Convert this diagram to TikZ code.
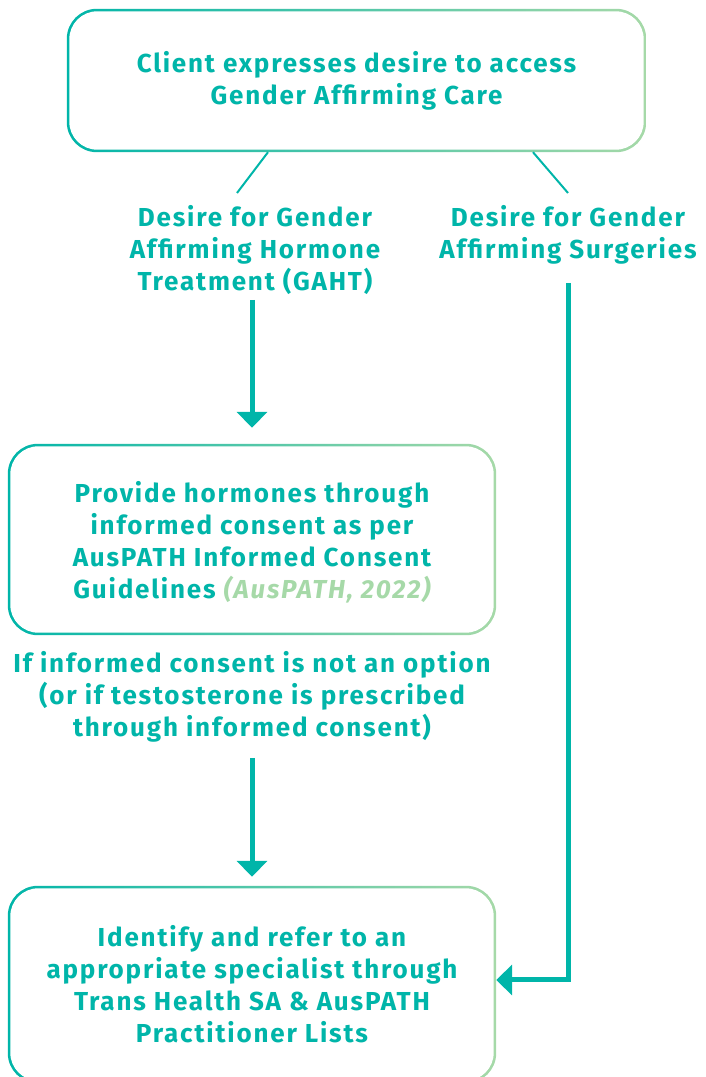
\documentclass[tikz,border=0pt]{standalone}
\usepackage{fontspec}
\setmainfont{Fira Sans}[LetterSpace=7]
\usetikzlibrary{arrows.meta,calc}

\definecolor{teal}{HTML}{00B5A9}
\definecolor{mint}{HTML}{A6D9A8}

\tikzset{
  txt/.style={text=teal, font=\bfseries\fontsize{26}{32}\selectfont, align=center, inner sep=0pt},
  careBox/.style={txt, minimum width=#1},
  link/.style={draw=teal, line width=2pt},
  flow/.style={draw=teal, line width=5pt, -{Triangle[width=30pt,length=16pt]}}
}

\begin{document}
\begin{tikzpicture}[x=1pt, y=1pt]
  \useasboundingbox (0,0) rectangle (705,1077);

  % boxes (text only, border drawn below)
  \node[careBox=579, minimum height=143] (client) at (356.5,996.5) {};
  \node[careBox=488, minimum height=191] (hormone) at (252,537.5) {};
  \node[careBox=488, minimum height=197] (refer) at (252,92.5) {};

  % gradient borders
  \foreach \b in {client,hormone,refer}{
    \shade[left color=teal, right color=mint, rounded corners=30pt]
      (\b.south west) rectangle (\b.north east);
    \fill[white, rounded corners=28pt]
      ([shift={(2.5,2.5)}]\b.south west) rectangle ([shift={(-2.5,-2.5)}]\b.north east);
  }
  % box texts
  \node[txt] at (client) {Client expresses desire to access\\Gender Affirming Care};
  \node[txt] at ([yshift=-3]hormone)
    {Provide hormones through\\informed consent as per\\AusPATH Informed Consent\\Guidelines {\color{mint}\itshape(AusPATH, 2022)}};
  \node[txt] at (refer)
    {Identify and refer to an\\appropriate specialist through\\Trans Health SA \& AusPATH\\Practitioner Lists};

  % labels
  \node[txt] (gaht) at (255,826.5)
    {Desire for Gender\\Affirming Hormone\\Treatment (GAHT)};
  \node[txt] (surg) at (568,842)
    {Desire for Gender\\Affirming Surgeries};
  \node[txt] (consent) at (252,380)
    {If informed consent is not an option\\(or if testosterone is prescribed\\through informed consent)};

  % connectors
  \coordinate (gahtTop) at (237,884);
  \coordinate (surgTop) at (568,884);
  \draw[link] ([xshift=-88.5]client.south) -- (gahtTop);
  \draw[link] ([xshift=176.5]client.south) -- (surgTop);

  \coordinate (gahtEnd) at (252,777);
  \draw[flow] (gahtEnd) -- ([yshift=16]hormone.north);

  \coordinate (consentEnd) at (252,319);
  \draw[flow] (consentEnd) -- ([yshift=9]refer.north);

  \coordinate (surgEnd) at (568,794);
  \draw[flow] (surgEnd) |- ([yshift=4.5]refer.east);
\end{tikzpicture}
\end{document}
